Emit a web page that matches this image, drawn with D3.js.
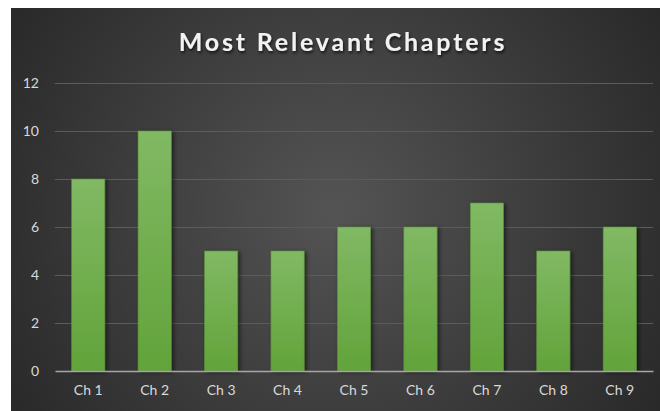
<!DOCTYPE html>
<html>
<head>
<meta charset="utf-8">
<script src="https://cdn.jsdelivr.net/npm/d3@7"></script>
<style>
  html, body { margin: 0; padding: 0; background: #ffffff; }
  svg { display: block; }
</style>
</head>
<body>
<svg id="chart" width="660" height="411"></svg>
<script>
// Chapter relevance counts
const categories = ["Ch 1", "Ch 2", "Ch 3", "Ch 4", "Ch 5", "Ch 6", "Ch 7", "Ch 8", "Ch 9"];
const values = [8, 10, 5, 5, 6, 6, 7, 5, 6];
const yTicks = [0, 2, 4, 6, 8, 10, 12];
const title = "Most Relevant Chapters";

const svg = d3.select("#chart");
const W = 660, H = 411;
const panel = { x: 11, y: 8, w: W - 11, h: H - 8 };
const plot = { left: 55, right: 653, top: 83, bottom: 371 };

const defs = svg.append("defs");

// Dark radial background
const bg = defs.append("radialGradient")
  .attr("id", "bgGrad")
  .attr("gradientUnits", "userSpaceOnUse")
  .attr("cx", 335).attr("cy", 210).attr("r", 390);
bg.append("stop").attr("offset", "0%").attr("stop-color", "#545454");
bg.append("stop").attr("offset", "100%").attr("stop-color", "#282828");

// Bar fill, lighter at top
const barGrad = defs.append("linearGradient")
  .attr("id", "barGrad").attr("x1", 0).attr("y1", 0).attr("x2", 0).attr("y2", 1);
barGrad.append("stop").attr("offset", "0%").attr("stop-color", "#81b964");
barGrad.append("stop").attr("offset", "100%").attr("stop-color", "#62a33a");

const shadow = defs.append("filter").attr("id", "barShadow")
  .attr("x", "-30%").attr("y", "-10%").attr("width", "160%").attr("height", "120%");
shadow.append("feDropShadow")
  .attr("dx", 2).attr("dy", 1).attr("stdDeviation", 2)
  .attr("flood-color", "#000").attr("flood-opacity", 0.55);

svg.append("rect")
  .attr("x", panel.x).attr("y", panel.y)
  .attr("width", panel.w).attr("height", panel.h)
  .attr("fill", "url(#bgGrad)");

const x = d3.scaleBand()
  .domain(categories)
  .range([plot.left, plot.right])
  .paddingInner(0.5).paddingOuter(0.25);

const y = d3.scaleLinear()
  .domain([0, 12])
  .range([plot.bottom, plot.top]);

// Horizontal gridlines
svg.append("g")
  .selectAll("line")
  .data(yTicks.filter(d => d > 0))
  .join("line")
  .attr("x1", plot.left).attr("x2", plot.right)
  .attr("y1", d => Math.round(y(d)) + 0.5).attr("y2", d => Math.round(y(d)) + 0.5)
  .attr("stroke", "#5c5c5c").attr("stroke-width", 1);

// Y axis labels
const yAxis = d3.axisLeft(y).tickValues(yTicks).tickSize(0).tickPadding(0);
const gy = svg.append("g")
  .attr("transform", `translate(${plot.left - 16},0)`)
  .call(yAxis);
gy.select(".domain").remove();
gy.selectAll("text")
  .attr("fill", "#d9d9d9")
  .style("font-family", "Lato, 'Open Sans', sans-serif")
  .style("font-size", "14px");

// Bars
svg.append("g")
  .selectAll("rect")
  .data(values)
  .join("rect")
  .attr("x", (d, i) => x(categories[i]))
  .attr("y", d => y(d))
  .attr("width", x.bandwidth())
  .attr("height", d => y(0) - y(d))
  .attr("fill", "url(#barGrad)")
  .attr("stroke", "#5a8f3b")
  .attr("stroke-width", 0.6)
  .attr("filter", "url(#barShadow)");

// X axis
const xAxis = d3.axisBottom(x).tickSize(0).tickPadding(14);
const gx = svg.append("g")
  .attr("transform", `translate(0,${plot.bottom})`)
  .call(xAxis);
gx.select(".domain")
  .attr("stroke", "#a6a6a6").attr("stroke-width", 1.3);
gx.selectAll("text")
  .attr("fill", "#d9d9d9")
  .style("font-family", "Lato, 'Open Sans', sans-serif")
  .style("font-size", "14px");

// Title
const titleShadow = defs.append("filter").attr("id", "titleShadow")
  .attr("x", "-10%").attr("y", "-30%").attr("width", "120%").attr("height", "160%");
titleShadow.append("feDropShadow")
  .attr("dx", 1).attr("dy", 2).attr("stdDeviation", 1.5)
  .attr("flood-color", "#000").attr("flood-opacity", 0.7);

svg.append("text")
  .attr("x", 343).attr("y", 51)
  .attr("text-anchor", "middle")
  .attr("fill", "#f2f2f2")
  .attr("filter", "url(#titleShadow)")
  .style("font-family", "Lato, 'Open Sans', sans-serif")
  .style("font-weight", "bold")
  .style("font-size", "25px")
  .style("letter-spacing", "2.8px")
  .text(title);
</script>
</body>
</html>
